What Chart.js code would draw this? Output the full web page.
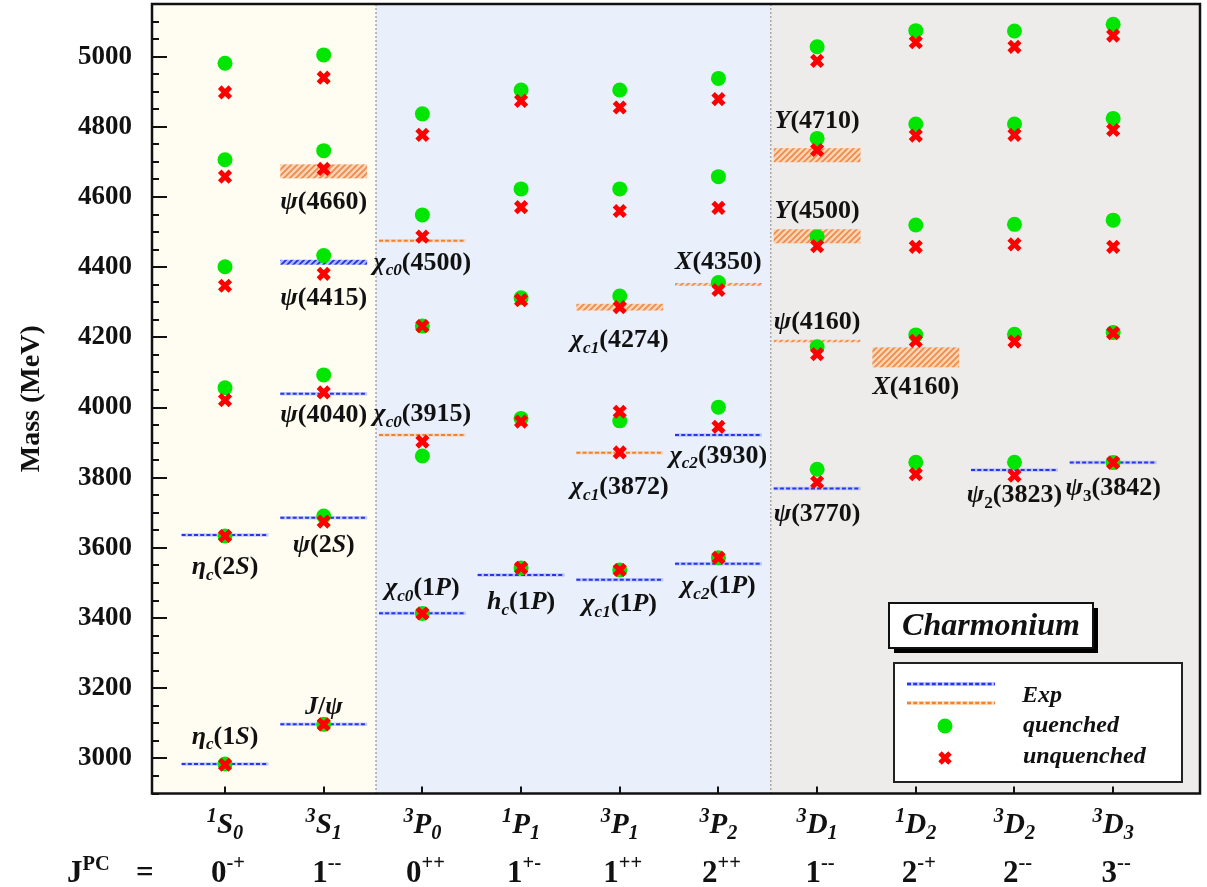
<!DOCTYPE html>
<html><head><meta charset="utf-8">
<script src="https://cdn.jsdelivr.net/npm/chart.js@4/dist/chart.umd.min.js"></script>
<style>html,body{margin:0;padding:0;background:#fff}canvas{display:block}</style>
</head><body>
<canvas id="c" width="1207" height="887"></canvas>
<script>
// ---------- DATA ----------
const catMult = ['1','3','3','1','3','3','3','1','3','3'];
const catL    = ['S','S','P','P','P','P','D','D','D','D'];
const catJ    = ['0','1','0','1','1','2','1','2','2','3'];
const jpcJ    = ['0','1','0','1','1','2','1','2','2','3'];
const jpcPC   = ['-+','--','++','+-','++','++','--','-+','--','--'];

const quenched = [
  [2984, 3634, 4056, 4401, 4706, 4981],
  [3097, 3691, 4093, 4433, 4732, 5005],
  [3413, 3862, 4232, 4549, 4837],
  [3543, 3969, 4313, 4623, 4905],
  [3537, 3962, 4318, 4623, 4905],
  [3572, 4001, 4356, 4658, 4938],
  [3824, 4173, 4487, 4767, 5028],
  [3844, 4207, 4520, 4808, 5074],
  [3844, 4209, 4522, 4808, 5073],
  [3843, 4214, 4534, 4824, 5092]
];
const unquenched = [
  [2982, 3634, 4021, 4347, 4658, 4898],
  [3097, 3675, 4043, 4381, 4680, 4940],
  [3413, 3903, 4232, 4487, 4777],
  [3543, 3960, 4306, 4571, 4874],
  [3537, 3872, 3988, 4286, 4560, 4855],
  [3572, 3945, 4335, 4569, 4879],
  [3787, 4152, 4460, 4734, 4988],
  [3810, 4190, 4458, 4775, 5041],
  [3806, 4188, 4465, 4777, 5028],
  [3843, 4212, 4458, 4791, 5060]
];

// experimental states
const expCat  = [0,0,1,1,1,1,1,2,2,2,3,4,4,4,5,5,5,6,6,6,6,7,8,9];
const expMass = [2984,3637,3097,3686,4039,4414,4673,3414,3922,4475,3523,3509,3871,4286,3555,3922,4351,3769,4190,4488,4719,4143,3822,3843];
const expErr  = [0,0,0,0,0,7,20,0,0,0,0,0,0,9.5,0,0,4,0,3,20,20,28.5,0,0];
const expKind = ['b','b','b','b','b','b','o','b','o','o','b','b','o','o','b','b','o','b','o','o','o','o','b','b'];
const expName = ['*η*_{*c*}(1*S*)','*η*_{*c*}(2*S*)','*J*/*ψ*','*ψ*(2*S*)','*ψ*(4040)','*ψ*(4415)','*ψ*(4660)',
  '*χ*_{*c0*}(1*P*)','*χ*_{*c0*}(3915)','*χ*_{*c0*}(4500)','*h*_{*c*}(1*P*)','*χ*_{*c1*}(1*P*)','*χ*_{*c1*}(3872)','*χ*_{*c1*}(4274)',
  '*χ*_{*c2*}(1*P*)','*χ*_{*c2*}(3930)','*X*(4350)','*ψ*(3770)','*ψ*(4160)','*Y*(4500)','*Y*(4710)','*X*(4160)','*ψ*_{2}(3823)','*ψ*_{3}(3842)'];
const expLabelMass = [3061,3545,3147,3607,3978,4312,4585,3485,3981,4412,3445,3440,3773,4192,3490,3862,4415,3697,4243,4560,4817,4058,3750,3770];

const yTicks = [3000,3200,3400,3600,3800,4000,4200,4400,4600,4800,5000];
const yMin = 2900, yMax = 5150, minorStep = 50;
const regionEdges = [1.53, 5.53];
const regionColors = ['#fffdf1','#e9f0fb','#eeecea'];

// ---------- HELPERS ----------
const SERIF = '"Liberation Serif","Times New Roman","DejaVu Serif",serif';
function fnt(sz,it){return (it?'italic ':'')+'bold '+sz+'px '+SERIF;}
function parseRich(s){
  const segs=[]; let it=false, i=0;
  while(i<s.length){
    const c=s[i];
    if(c==='*'){it=!it;i++;continue;}
    if((c==='_'||c==='^')&&s[i+1]==='{'){
      const end=s.indexOf('}',i); const inner=s.slice(i+2,end); let it2=false;
      for(const ch of inner){ if(ch==='*'){it2=!it2;continue;} segs.push({t:ch,it:it2,m:c==='_'?'sub':'sup'}); }
      i=end+1; continue;
    }
    segs.push({t:c,it:it,m:'n'}); i++;
  }
  const out=[];
  segs.forEach(g=>{const l=out[out.length-1]; if(l&&l.it===g.it&&l.m===g.m) l.t+=g.t; else out.push({...g});});
  return out;
}
function drawRich(ctx,s,x,y,sz,align,opt){
  opt=opt||{};
  const ss=opt.subScale||0.66;
  const segs=parseRich(s); let w=0;
  segs.forEach(g=>{g.sz=g.m==='n'?sz:sz*ss; ctx.font=fnt(g.sz,g.it); g.w=ctx.measureText(g.t).width+(g.m!=='n'?(opt.gap||0):0); w+=g.w;});
  let cx = align==='center'? x-w/2 : align==='right'? x-w : x;
  ctx.textAlign='left'; ctx.textBaseline='alphabetic'; ctx.fillStyle='#111';
  segs.forEach(g=>{ctx.font=fnt(g.sz,g.it);
    const dy=g.m==='sub'?sz*(opt.subDy||0.22):g.m==='sup'?-sz*(opt.supDy||0.42):0;
    ctx.fillText(g.t,cx,y+dy); cx+=g.w;});
}
function hatch(ctx,base,line){
  const c=document.createElement('canvas'); c.width=c.height=6;
  const g=c.getContext('2d'); g.fillStyle=base; g.fillRect(0,0,6,6);
  g.strokeStyle=line; g.lineWidth=1.7; g.beginPath();
  g.moveTo(0,6);g.lineTo(6,0);g.moveTo(-3,3);g.lineTo(3,-3);g.moveTo(3,9);g.lineTo(9,3); g.stroke();
  return ctx.createPattern(c,'repeat');
}
const COL = {b:{dark:'#2536ee',light:'#9aa8ff',hb:'#aab8ff',hl:'#1f30e0'},
             o:{dark:'#f0842e',light:'#f8c9a0',hb:'#fbd5b8',hl:'#f08a48'}};
function expLine(ctx,x0,x1,y,k,w){
  w=w||2;
  ctx.save();
  ctx.lineWidth=w+1.5; ctx.strokeStyle=COL[k].light; ctx.globalAlpha=0.55;
  ctx.beginPath(); ctx.moveTo(x0,y); ctx.lineTo(x1,y); ctx.stroke();
  ctx.globalAlpha=1; ctx.lineWidth=w; ctx.setLineDash([4,2.2]); ctx.strokeStyle=COL[k].dark;
  ctx.beginPath(); ctx.moveTo(x0,y); ctx.lineTo(x1,y); ctx.stroke();
  ctx.restore();
}

// ---------- PLUGIN ----------
const HALF = 0.44;
const deco = {
  id:'deco',
  beforeDatasetsDraw(chart){
    const {ctx, chartArea:a, scales:{x,y}} = chart;
    ctx.save();
    const edges=[a.left, x.getPixelForValue(regionEdges[0]), x.getPixelForValue(regionEdges[1]), a.right];
    for(let i=0;i<3;i++){ctx.fillStyle=regionColors[i]; ctx.fillRect(edges[i],a.top,edges[i+1]-edges[i],a.bottom-a.top);}
    ctx.strokeStyle='#a8a8a8'; ctx.lineWidth=1.5; ctx.setLineDash([2,2]);
    [edges[1],edges[2]].forEach(px=>{ctx.beginPath();ctx.moveTo(px,a.top);ctx.lineTo(px,a.bottom);ctx.stroke();});
    ctx.setLineDash([]);
    for(let i=0;i<expCat.length;i++){
      const x0=x.getPixelForValue(expCat[i]-HALF), x1=x.getPixelForValue(expCat[i]+HALF);
      const k=expKind[i];
      if(expErr[i]>0){
        const yt=y.getPixelForValue(expMass[i]+expErr[i]), yb=y.getPixelForValue(expMass[i]-expErr[i]);
        ctx.fillStyle=hatch(ctx,COL[k].hb,COL[k].hl);
        ctx.fillRect(x0,yt,x1-x0,Math.max(2.5,yb-yt));
      } else {
        expLine(ctx,x0,x1,y.getPixelForValue(expMass[i]),k);
      }
    }
    ctx.restore();
  },
  afterDraw(chart){
    const {ctx, chartArea:a, scales:{x,y}} = chart;
    ctx.save();
    for(let i=0;i<expCat.length;i++){
      const px=x.getPixelForValue(expCat[i]), py=y.getPixelForValue(expLabelMass[i]);
      drawRich(ctx,expName[i],px,py+0.26*26,26,'center');
    }
    ctx.strokeStyle='#111'; ctx.lineWidth=2;
    for(let m=yMin;m<=yMax;m+=minorStep){
      const py=Math.round(y.getPixelForValue(m));
      const len=yTicks.includes(m)?15:7;
      ctx.beginPath(); ctx.moveTo(a.left,py); ctx.lineTo(a.left+len,py); ctx.stroke();
    }
    for(let i=0;i<catL.length;i++){
      const px=Math.round(x.getPixelForValue(i));
      ctx.beginPath(); ctx.moveTo(px,a.bottom); ctx.lineTo(px,a.bottom-7); ctx.stroke();
    }
    ctx.lineWidth=2.5; ctx.strokeStyle='#111';
    ctx.strokeRect(a.left,a.top,a.right-a.left,a.bottom-a.top);
    for(let i=0;i<catL.length;i++){
      const px=x.getPixelForValue(i);
      drawRich(ctx,'^{*'+catMult[i]+'*}*'+catL[i]+'*_{*'+catJ[i]+'*}',px,833,29,'center',{subScale:0.7,subDy:0.2,supDy:0.38});
      drawRich(ctx,jpcJ[i]+'^{'+jpcPC[i]+'}',px+3,882,31,'center',{subScale:0.66,supDy:0.42});
    }
    drawRich(ctx,'J^{PC}',67,882,31,'left',{subScale:0.66,supDy:0.4});
    ctx.font=fnt(31,false); ctx.textAlign='left'; ctx.fillText('=',136,882);
    ctx.fillStyle='#000'; ctx.fillRect(894,608,204,45);
    ctx.fillStyle='#fff'; ctx.fillRect(889,603,204,45);
    ctx.lineWidth=2; ctx.strokeStyle='#111'; ctx.strokeRect(889,603,204,45);
    ctx.fillStyle='#111'; ctx.font=fnt(32,true); ctx.textAlign='center'; ctx.textBaseline='middle';
    ctx.fillText('Charmonium',991,627);
    ctx.fillStyle='#fff'; ctx.fillRect(894,663,288,119);
    ctx.lineWidth=2; ctx.strokeStyle='#222'; ctx.strokeRect(894,663,288,119);
    expLine(ctx,907,995,684,'b',2.5); expLine(ctx,907,995,703,'o',2.5);
    ctx.fillStyle='#00e600'; ctx.beginPath(); ctx.arc(945,726,7.5,0,Math.PI*2); ctx.fill();
    ctx.strokeStyle='#ff0000'; ctx.lineWidth=5;
    ctx.beginPath(); ctx.moveTo(940,753); ctx.lineTo(950,763); ctx.moveTo(950,753); ctx.lineTo(940,763); ctx.stroke();
    ctx.fillStyle='#111'; ctx.textAlign='left'; ctx.textBaseline='alphabetic';
    ctx.font=fnt(24,true);
    ctx.fillText('Exp',1022,702); ctx.fillText('quenched',1023,732); ctx.fillText('unquenched',1023,763);
    ctx.restore();
  }
};

// ---------- CHART ----------
const toPts = arr => arr.flatMap((ms,i)=>ms.map(m=>({x:i,y:m})));
new Chart(document.getElementById('c'),{
  type:'scatter',
  data:{datasets:[
    {label:'unquenched',data:toPts(unquenched),pointStyle:'crossRot',pointRadius:7.5,pointBorderWidth:5,borderColor:'#ff0000',pointBorderColor:'#ff0000',backgroundColor:'#ff0000'},
    {label:'quenched',data:toPts(quenched),pointStyle:'circle',pointRadius:7.5,pointBorderWidth:0,backgroundColor:'#00e600',pointBackgroundColor:'#00e600'}
  ]},
  options:{
    responsive:false, animation:false, events:[],
    layout:{autoPadding:false,padding:{top:4,right:7,bottom:93.5,left:0}},
    plugins:{legend:{display:false},tooltip:{enabled:false}},
    scales:{
      x:{type:'linear',display:false,min:-0.74,max:9.88},
      y:{type:'linear',min:yMin,max:yMax,
        afterFit(s){s.width=152; s.paddingTop=0; s.paddingBottom=0;},
        afterBuildTicks(s){s.ticks=yTicks.map(v=>({value:v}));},
        grid:{display:false,drawTicks:false},border:{display:false},
        ticks:{padding:20,color:'#111',font:{family:SERIF,weight:'bold',size:27,lineHeight:0.25},callback:v=>String(v)},
        title:{display:true,text:'Mass (MeV)',color:'#111',padding:{top:15,bottom:0},font:{family:SERIF,weight:'bold',size:28}}
      }
    }
  },
  plugins:[deco]
});
</script></body></html>
